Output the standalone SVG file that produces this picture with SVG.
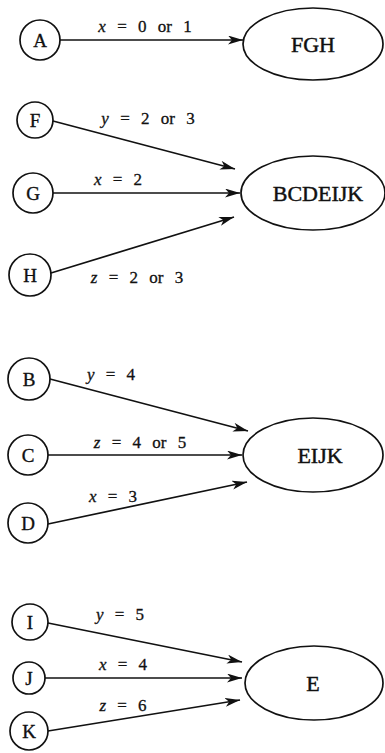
<svg xmlns="http://www.w3.org/2000/svg" width="385" height="753" viewBox="0 0 385 753">
  <style>
    .bg { fill: #ffffff; }
    .node circle, .node ellipse { fill: none; stroke: #111; stroke-width: 1.7; }
    .name { font-family: "Liberation Serif", "Times New Roman", serif; font-size: 19px; fill: #111; stroke: #111; stroke-width: 0.35; text-anchor: middle; }
    .set { font-family: "Liberation Serif", "Times New Roman", serif; font-size: 22px; fill: #111; stroke: #111; stroke-width: 0.45; text-anchor: middle; }
    .edge line { stroke: #111; stroke-width: 1.7; marker-end: url(#head); }
    .lbl { font-family: "Liberation Serif", "Times New Roman", serif; font-size: 17px; fill: #111; stroke: #111; stroke-width: 0.3; text-anchor: middle; word-spacing: 7px; }
    .v { font-style: italic; }
  </style>
  <defs>
    <marker id="head" markerUnits="userSpaceOnUse" markerWidth="16" markerHeight="10" refX="15" refY="4.5" orient="auto">
      <path d="M0,0 L15,4.5 L0,9 L4,4.5 z" fill="#111"/>
    </marker>
  </defs>
  <rect class="bg" x="0" y="0" width="385" height="753"/>

  <!-- connectors -->
  <g id="connectors" class="edge">
    <line x1="60" y1="40" x2="243" y2="40"/>
    <line x1="53" y1="121" x2="235" y2="169"/>
    <line x1="53" y1="193" x2="240" y2="193"/>
    <line x1="51" y1="273" x2="234" y2="217"/>
    <line x1="50" y1="379" x2="248" y2="431"/>
    <line x1="48" y1="455" x2="242" y2="455"/>
    <line x1="48" y1="524" x2="247" y2="482"/>
    <line x1="48" y1="623" x2="242" y2="662"/>
    <line x1="45" y1="678" x2="242" y2="678"/>
    <line x1="48" y1="731" x2="240" y2="700"/>
  </g>

  <!-- edge labels -->
  <g id="labels">
    <text class="lbl" x="145" y="32"><tspan class="v">x</tspan> = 0 or 1</text>
    <text class="lbl" x="148" y="124"><tspan class="v">y</tspan> = 2 or 3</text>
    <text class="lbl" x="118" y="185"><tspan class="v">x</tspan> = 2</text>
    <text class="lbl" x="137" y="283"><tspan class="v">z</tspan> = 2 or 3</text>
    <text class="lbl" x="111" y="380"><tspan class="v">y</tspan> = 4</text>
    <text class="lbl" x="140" y="448"><tspan class="v">z</tspan> = 4 or 5</text>
    <text class="lbl" x="113" y="502"><tspan class="v">x</tspan> = 3</text>
    <text class="lbl" x="120" y="620"><tspan class="v">y</tspan> = 5</text>
    <text class="lbl" x="123" y="670"><tspan class="v">x</tspan> = 4</text>
    <text class="lbl" x="123" y="711"><tspan class="v">z</tspan> = 6</text>
  </g>

  <!-- single-letter nodes -->
  <g id="A" class="node"><circle cx="40" cy="40" r="20"/><text class="name" x="40" y="46.5">A</text></g>
  <g id="F" class="node"><circle cx="35" cy="120" r="18"/><text class="name" x="35" y="126.5">F</text></g>
  <g id="G" class="node"><circle cx="33" cy="193" r="20"/><text class="name" x="33" y="199.5">G</text></g>
  <g id="H" class="node"><circle cx="30" cy="275" r="21"/><text class="name" x="30" y="281.5">H</text></g>
  <g id="B" class="node"><circle cx="29" cy="379" r="21"/><text class="name" x="29" y="385.5">B</text></g>
  <g id="C" class="node"><circle cx="28" cy="455" r="20"/><text class="name" x="28" y="461.5">C</text></g>
  <g id="D" class="node"><circle cx="28" cy="523" r="20"/><text class="name" x="28" y="529.5">D</text></g>
  <g id="I" class="node"><circle cx="30" cy="622" r="18"/><text class="name" x="30" y="628.5">I</text></g>
  <g id="J" class="node"><circle cx="29" cy="678" r="16"/><text class="name" x="29" y="684.5">J</text></g>
  <g id="K" class="node"><circle cx="29" cy="731" r="19"/><text class="name" x="29" y="737.5">K</text></g>

  <!-- set nodes -->
  <g id="FGH" class="node"><ellipse cx="313" cy="44" rx="70" ry="36"/><text class="set" x="313" y="52">FGH</text></g>
  <g id="BCDEIJK" class="node"><ellipse cx="313" cy="193" rx="72" ry="37"/><text class="set" x="318" y="201">BCDEIJK</text></g>
  <g id="EIJK" class="node"><ellipse cx="313" cy="455" rx="70" ry="37"/><text class="set" x="320" y="463">EIJK</text></g>
  <g id="E" class="node"><ellipse cx="314" cy="683" rx="69" ry="37"/><text class="set" x="313" y="691">E</text></g>
</svg>
